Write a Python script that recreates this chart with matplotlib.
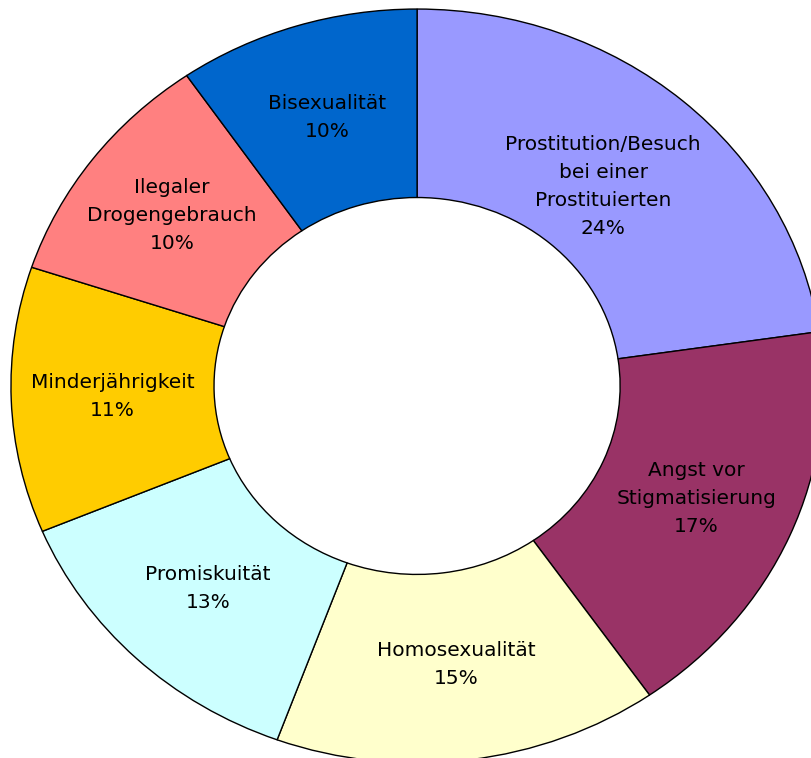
import numpy as np
import matplotlib
matplotlib.use("Agg")
import matplotlib.pyplot as plt

# categories, clockwise from the top
labels = ["Prostitution/Besuch\nbei einer\nProstituierten",
          "Angst vor\nStigmatisierung",
          "Homosexualität",
          "Promiskuität",
          "Minderjährigkeit",
          "Ilegaler\nDrogengebrauch",
          "Bisexualität"]
# shares as drawn (angles)
shares = [22.7, 17.6, 15.3, 13.1, 11.4, 10.3, 9.6]
# percentages as printed on the chart
pct_labels = ["24%", "17%", "15%", "13%", "11%", "10%", "10%"]
colors = ["#9999FF", "#993366", "#FFFFCC", "#CCFFFF", "#FFCC00", "#FF8080", "#0066CC"]

fig = plt.figure(figsize=(8.11, 7.58), dpi=100)
ax = fig.add_axes([0, 0, 1, 1])

wedges, _ = ax.pie(shares, colors=colors, startangle=90, counterclock=False,
                   radius=1.0,
                   wedgeprops=dict(width=0.5, edgecolor="black", linewidth=1.0))

# the reference is a slightly squashed ellipse, so drop equal aspect
ax.set_aspect("auto")
ax.set_xlim(-1.027, 0.970)
ax.set_ylim(-0.987, 1.024)
ax.axis("off")

label_r = [0.70, 0.75, 0.745, 0.745, 0.75, 0.755, 0.745]
for w, name, pct, r in zip(wedges, labels, pct_labels, label_r):
    mid = np.deg2rad((w.theta1 + w.theta2) / 2)
    ax.text(r * np.cos(mid), r * np.sin(mid), name + "\n" + pct,
            ha="center", va="center", fontsize=14.5, linespacing=1.6,
            family="DejaVu Sans", color="black")

fig.savefig("out.png", dpi=100)
